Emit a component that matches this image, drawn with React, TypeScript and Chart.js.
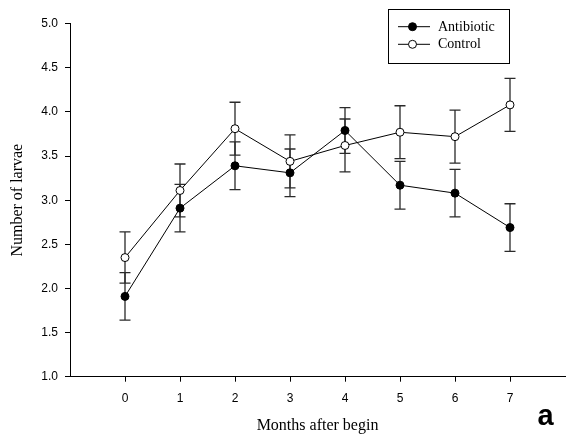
import React, { useEffect, useRef } from "react";
import { Chart, registerables } from "chart.js";

Chart.register(...registerables);

const months = [0, 1, 2, 3, 4, 5, 6, 7];
const antibiotic = [1.91, 2.91, 3.39, 3.31, 3.79, 3.17, 3.08, 2.69];
const antibioticErr = [0.27, 0.27, 0.27, 0.27, 0.26, 0.27, 0.27, 0.27];
const control = [2.35, 3.11, 3.81, 3.44, 3.62, 3.77, 3.72, 4.08];
const controlErr = [0.29, 0.3, 0.3, 0.3, 0.3, 0.3, 0.3, 0.3];
const seriesNames = ["Antibiotic", "Control"];
const xTitle = "Months after begin";
const yTitle = "Number of larvae";
const panelLabel = "a";

const errorBarPlugin = {
  id: "errorBars",
  beforeDatasetsDraw(chart: any) {
    const { ctx, scales } = chart;
    const xs = scales.x;
    const ys = scales.y;
    const sets = [
      { vals: antibiotic, errs: antibioticErr },
      { vals: control, errs: controlErr },
    ];
    ctx.save();
    ctx.strokeStyle = "#2a2a2a";
    ctx.lineWidth = 1.3;
    sets.forEach((s) => {
      s.vals.forEach((v, i) => {
        const x = xs.getPixelForValue(months[i]);
        const yt = ys.getPixelForValue(v + s.errs[i]);
        const yb = ys.getPixelForValue(v - s.errs[i]);
        ctx.beginPath();
        ctx.moveTo(x, yt);
        ctx.lineTo(x, yb);
        ctx.moveTo(x - 5.5, yt);
        ctx.lineTo(x + 5.5, yt);
        ctx.moveTo(x - 5.5, yb);
        ctx.lineTo(x + 5.5, yb);
        ctx.stroke();
      });
    });
    ctx.restore();
  },
};

const decorPlugin = {
  id: "decor",
  afterDraw(chart: any) {
    const { ctx } = chart;
    ctx.save();
    ctx.strokeStyle = "#000";
    ctx.lineWidth = 1;
    ctx.strokeRect(388.5, 9.5, 121, 54);
    const rows = [
      { y: 26.7, fill: "#000", label: seriesNames[0] },
      { y: 44.3, fill: "#fff", label: seriesNames[1] },
    ];
    rows.forEach((r) => {
      ctx.beginPath();
      ctx.moveTo(398, r.y);
      ctx.lineTo(430, r.y);
      ctx.stroke();
      ctx.beginPath();
      ctx.arc(412.5, r.y, 4, 0, Math.PI * 2);
      ctx.fillStyle = r.fill;
      ctx.fill();
      ctx.stroke();
      ctx.fillStyle = "#000";
      ctx.font = "14px 'Liberation Serif'";
      ctx.textAlign = "left";
      ctx.textBaseline = "middle";
      ctx.fillText(r.label, 438, r.y + 0.5);
    });
    ctx.font = "bold 29px 'Liberation Sans'";
    ctx.textAlign = "center";
    ctx.textBaseline = "alphabetic";
    ctx.fillStyle = "#000";
    ctx.fillText(panelLabel, 545.5, 425);
    ctx.restore();
  },
};

export default function App() {
  const ref = useRef<HTMLCanvasElement>(null);

  useEffect(() => {
    if (!ref.current) return;
    const chart = new Chart(ref.current, {
      type: "line",
      data: {
        datasets: [
          {
            label: seriesNames[0],
            data: months.map((m, i) => ({ x: m, y: antibiotic[i] })),
            borderColor: "#000",
            borderWidth: 1,
            pointRadius: 4,
            pointBorderWidth: 1,
            pointBackgroundColor: "#000",
            pointBorderColor: "#000",
            tension: 0,
          },
          {
            label: seriesNames[1],
            data: months.map((m, i) => ({ x: m, y: control[i] })),
            borderColor: "#000",
            borderWidth: 1,
            pointRadius: 4,
            pointBorderWidth: 1,
            pointBackgroundColor: "#fff",
            pointBorderColor: "#000",
            tension: 0,
          },
        ],
      },
      options: {
        animation: false,
        responsive: false,
        devicePixelRatio: 1,
        layout: { padding: { top: 23.7, left: 0, right: 0, bottom: 0 } },
        plugins: {
          legend: { display: false },
          tooltip: { enabled: false },
        },
        scales: {
          x: {
            type: "linear",
            min: -1,
            max: 8,
            afterBuildTicks: (scale: any) => {
              scale.ticks = months.map((v) => ({ value: v }));
            },
            afterFit: (scale: any) => {
              scale.height = 61.3;
              scale.paddingLeft = 0;
              scale.paddingRight = 0;
            },
            grid: {
              drawOnChartArea: false,
              drawTicks: true,
              tickLength: 5,
              tickColor: "#000",
            },
            border: { color: "#000", width: 1 },
            ticks: {
              color: "#000",
              padding: 10,
              autoSkip: false,
              maxRotation: 0,
              font: { family: "'Liberation Sans'", size: 12 },
              callback: (v: any) => String(v),
            },
            title: {
              display: true,
              text: xTitle,
              color: "#000",
              font: { family: "'Liberation Serif'", size: 16 },
              padding: { top: 0, bottom: 2.4 },
            },
          },
          y: {
            type: "linear",
            min: 1,
            max: 5,
            afterFit: (scale: any) => {
              scale.width = 70;
              scale.paddingTop = 0;
              scale.paddingBottom = 0;
            },
            grid: {
              drawOnChartArea: false,
              drawTicks: true,
              tickLength: 5,
              tickColor: "#000",
            },
            border: { color: "#000", width: 1 },
            ticks: {
              stepSize: 0.5,
              color: "#000",
              padding: 7,
              font: { family: "'Liberation Sans'", size: 12 },
              callback: (v: any) => Number(v).toFixed(1),
            },
            title: {
              display: true,
              text: yTitle,
              color: "#000",
              font: { family: "'Liberation Serif'", size: 16 },
              padding: { top: 8, bottom: 0 },
            },
          },
        },
      },
      plugins: [errorBarPlugin, decorPlugin],
    } as any);
    return () => chart.destroy();
  }, []);

  return (
    <div style={{ position: "fixed", left: 0, top: 0, width: 570, height: 438, background: "#fff" }}>
      <canvas ref={ref} width={570} height={438} />
    </div>
  );
}
